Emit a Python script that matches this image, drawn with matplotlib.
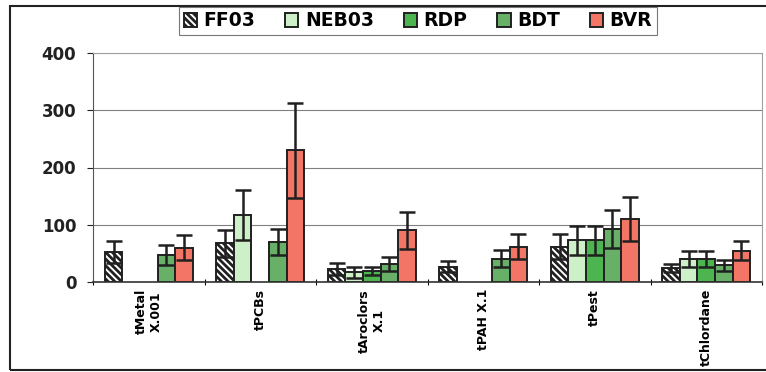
import numpy as np
import matplotlib.pyplot as plt
from matplotlib.patches import Rectangle

plt.rcParams.update({
    "font.family": "DejaVu Sans",
    "font.weight": "bold",
    "hatch.linewidth": 2.0})

# concentrations by contaminant group
groups = ['tMetal\nX.001', 'tPCBs', 'tAroclors\nX.1', 'tPAH X.1', 'tPest', 'tChlordane']
series = ['FF03', 'NEB03', 'RDP', 'BDT', 'BVR']
nan = np.nan
ff03 = [53, 67.5, 23, 27, 62, 25]
ff03_err = [19, 23, 10, 9, 21, 7]
neb03 = [nan, 117, 17, nan, 73, 40]
neb03_err = [nan, 43, 10, nan, 25, 14]
rdp = [nan, nan, 19, nan, 73, 40]
rdp_err = [nan, nan, 7, nan, 25, 14]
bdt = [47, 70, 31, 41, 92, 29]
bdt_err = [17, 23, 12, 15, 33, 10]
bvr = [60, 230, 90, 62, 110, 55]
bvr_err = [22, 83, 32, 22, 39, 17]

values = [ff03, neb03, rdp, bdt, bvr]
errors = [ff03_err, neb03_err, rdp_err, bdt_err, bvr_err]
colors = ['white', '#cdf0c8', '#4cb550', '#68b068', '#f27566']
hatches = ['\\\\\\\\\\', None, None, None, None]

fig = plt.figure(figsize=(7.66, 3.72), dpi=100)
ax = fig.add_axes([93 / 766, 90 / 372, 669 / 766, 229 / 372])

x = np.arange(len(groups))
w = 0.158
for k in range(len(series)):
    xs = x + (k - 2) * w
    ax.bar(xs, values[k], w, color=colors[k], edgecolor='#202020',
           linewidth=1.4, hatch=hatches[k], label=series[k], zorder=2)
    ax.errorbar(xs, values[k], yerr=errors[k], fmt='none', ecolor='#202020',
                elinewidth=1.8, capsize=5.5, capthick=1.8, zorder=3)

ax.set_xlim(-0.5, len(groups) - 0.5)
ax.set_ylim(0, 400)
ax.set_yticks([0, 100, 200, 300, 400])
ax.yaxis.grid(True, color='#808080', linewidth=0.8, zorder=0)
ax.tick_params(axis='y', labelsize=12, length=4, width=0.8, pad=8, colors='#222222')
ax.set_xticks(x)
ax.set_xticklabels(groups, rotation=90, fontsize=9, va='top', ha='center')
ax.tick_params(axis='x', length=0, pad=5)
ax.set_xticks(np.arange(-0.5, len(groups)), minor=True)
ax.tick_params(axis='x', which='minor', length=4, direction='inout', width=0.8)
for s in ['top', 'right']:
    ax.spines[s].set_color('#a0a0a0')
    ax.spines[s].set_linewidth(0.8)
ax.spines['left'].set_color('#555555')
ax.spines['bottom'].set_color('#333333')
ax.spines['bottom'].set_linewidth(1.2)

leg = fig.legend(loc='center', bbox_to_anchor=(418 / 766, 1 - 21 / 372), ncol=5,
                 fontsize=13.5, frameon=True, fancybox=False, handlelength=0.7,
                 handleheight=0.7, handletextpad=0.35, columnspacing=1.6,
                 borderpad=0.25, edgecolor='#555555')
leg.get_frame().set_linewidth(0.8)

# frame around the whole chart
fig.patches.append(Rectangle((10 / 766, 2 / 372), 0.999, 364 / 372,
                             transform=fig.transFigure, fill=False,
                             edgecolor='#222222', linewidth=1.5))

fig.savefig('out.png', dpi=100)
